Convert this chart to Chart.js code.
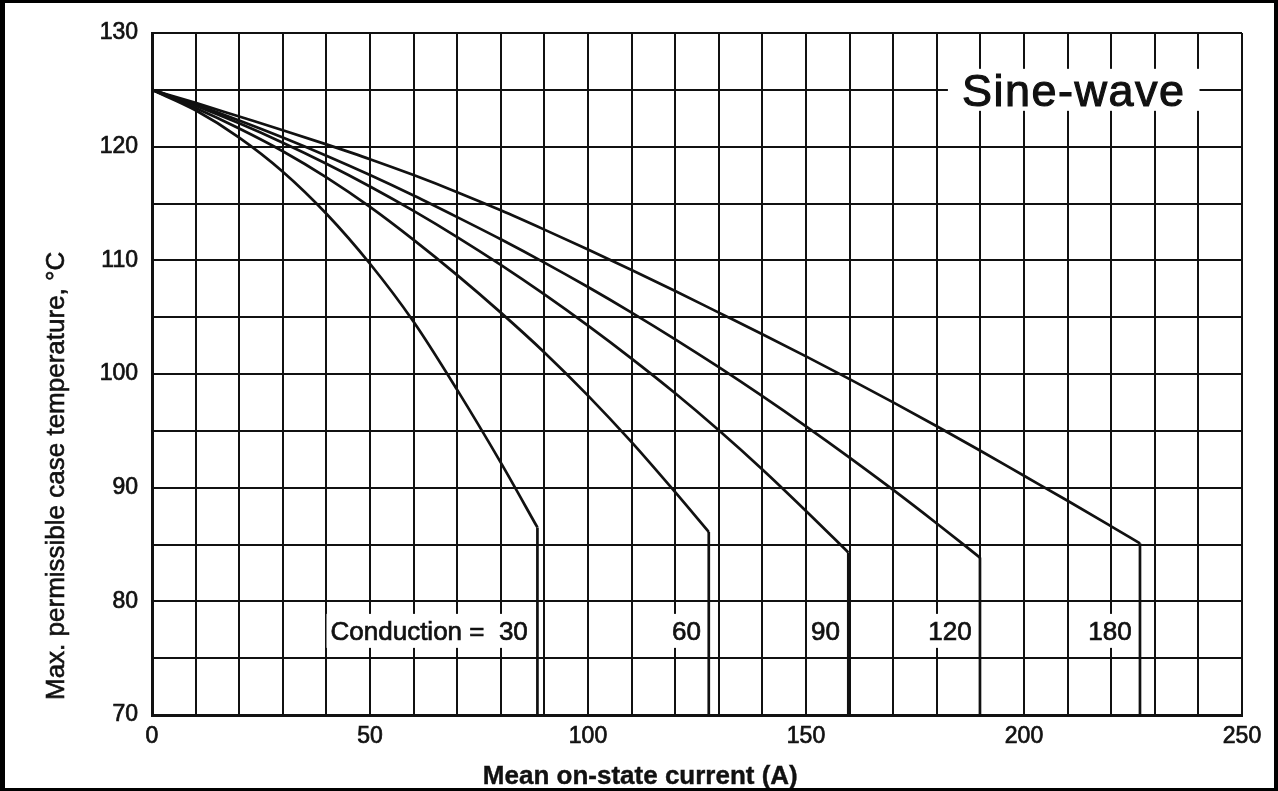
<!DOCTYPE html>
<html lang="en">
<head>
  <meta charset="utf-8">
  <title>Max. permissible case temperature - Sine-wave</title>
  <script src="https://cdn.jsdelivr.net/npm/chart.js@4.4.1/dist/chart.umd.min.js"></script>
  <style>
    html, body { margin: 0; padding: 0; background: #fff; }
    canvas { display: block; }
  </style>
</head>
<body>
  <canvas id="myChart" width="1278" height="791"></canvas>
  <script>
    // conduction angles and their curves (current A, case temp degC)
    const conduction = ['30', '60', '90', '120', '180'];

    const cur30 = [0, 10, 20, 30, 40, 50, 60, 70, 80, 88.4];
    const temp30 = [125, 123.2, 120.8, 117.8, 114.1, 109.7, 104.6, 98.6, 92.2, 86.5];

    const cur60 = [0, 10, 20, 30, 40, 50, 60, 70, 80, 90, 100, 110, 120, 127.7];
    const temp60 = [125, 123.4, 121.6, 119.6, 117.3, 114.7, 111.8, 108.7, 105.4, 101.9, 98.1, 94.0, 89.6, 86.1];

    const cur90 = [0, 10, 20, 30, 40, 50, 60, 70, 80, 90, 100, 110, 120, 130, 140, 150, 159.7];
    const temp90 = [125, 123.6, 122.05, 120.35, 118.5, 116.5, 114.35, 112.05, 109.6, 107.0, 104.25, 101.35, 98.3, 95.05, 91.6, 87.95, 84.3];

    const cur120 = [0, 10, 20, 30, 40, 50, 60, 70, 80, 90, 100, 110, 120, 130, 140, 150, 160, 170, 180, 189.9];
    const temp120 = [125, 123.7, 122.3, 120.8, 119.2, 117.5, 115.7, 113.8, 111.85, 109.8, 107.65, 105.4, 103.05, 100.6, 98.05, 95.4, 92.65, 89.8, 86.85, 83.85];

    const cur180 = [0, 10, 20, 30, 40, 50, 60, 70, 80, 90, 100, 110, 120, 130, 140, 150, 160, 170, 180, 190, 200, 210, 220, 226.6];
    const temp180 = [125, 123.85, 122.65, 121.45, 120.2, 118.9, 117.5, 116.0, 114.4, 112.7, 110.95, 109.15, 107.3, 105.4, 103.5, 101.55, 99.55, 97.5, 95.4, 93.25, 91.05, 88.85, 86.6, 85.1];

    // where the "Conduction = ..." numbers sit (right edge, in A) and their row (degC)
    const labelCur = [86.2, 125.9, 157.8, 188, 224.7];
    const labelTemp = 77.4;

    const xMin = 0, xMax = 250, yMin = 70, yMax = 130;

    const curves = [
      [cur30, temp30],
      [cur60, temp60],
      [cur90, temp90],
      [cur120, temp120],
      [cur180, temp180]
    ];

    const ink = '#111';
    const datasets = [];
    curves.forEach(function (c, i) {
      const xs = c[0], ys = c[1];
      datasets.push({
        label: conduction[i],
        data: xs.map(function (v, k) { return { x: v, y: ys[k] }; }),
        borderColor: ink,
        borderWidth: 2.7,
        pointRadius: 0,
        cubicInterpolationMode: 'monotone',
        fill: false
      });
      // vertical drop at the end of each curve, down to the axis
      const last = xs.length - 1;
      datasets.push({
        label: conduction[i] + ' limit',
        data: [{ x: xs[last], y: ys[last] }, { x: xs[last], y: yMin }],
        borderColor: ink,
        borderWidth: 2.7,
        pointRadius: 0,
        tension: 0,
        fill: false
      });
    });

    const FONT = '"Liberation Sans", Arial, Helvetica, sans-serif';

    // text with a thin outline so it looks as heavy as the scanned lettering
    function inkText(ctx, text, x, y, weight) {
      ctx.fillText(text, x, y);
      ctx.lineWidth = weight;
      ctx.strokeStyle = ink;
      ctx.strokeText(text, x, y);
    }

    function boxedText(ctx, text, xRight, yMid, size, pad, halfH, spacing, weight) {
      ctx.font = size + 'px ' + FONT;
      ctx.letterSpacing = spacing || '0px';
      const w = ctx.measureText(text).width;
      ctx.fillStyle = '#fff';
      ctx.fillRect(xRight - w - pad, yMid - halfH, w + pad * 2, halfH * 2);
      ctx.fillStyle = ink;
      ctx.textAlign = 'left';
      ctx.textBaseline = 'alphabetic';
      inkText(ctx, text, xRight - w, yMid + size * 0.358, weight);
      ctx.letterSpacing = '0px';
    }

    const extras = {
      id: 'extras',
      afterDatasetsDraw(chart) {
        const ctx = chart.ctx;
        const x = chart.scales.x, y = chart.scales.y;
        ctx.save();
        // Sine-wave tag
        ctx.font = '45px ' + FONT;
        ctx.letterSpacing = '1.5px';
        const sw = ctx.measureText('Sine-wave').width;
        const sx = x.getPixelForValue(211.4) + sw / 2;
        boxedText(ctx, 'Sine-wave', sx, y.getPixelForValue(125), 45, 14, 21, '1.5px', 1.1);
        // conduction labels
        const ly = y.getPixelForValue(labelTemp);
        conduction.forEach(function (c, i) {
          const t = i === 0 ? 'Conduction =  ' + c : c;
          boxedText(ctx, t, x.getPixelForValue(labelCur[i]), ly, 26, 4, 17, '0px', 0.7);
        });
        ctx.restore();
      },
      afterDraw(chart) {
        const ctx = chart.ctx;
        const area = chart.chartArea;
        const x = chart.scales.x;
        ctx.save();
        ctx.fillStyle = ink;
        // axis titles
        ctx.font = 'bold 26px ' + FONT;
        ctx.textAlign = 'center';
        ctx.textBaseline = 'alphabetic';
        inkText(ctx, 'Mean on-state current (A)', x.getPixelForValue(112), chart.height - 7, 0.4);

        ctx.translate(57, area.bottom - 15);
        ctx.rotate(-Math.PI / 2);
        ctx.font = '26px ' + FONT;
        ctx.textAlign = 'left';
        ctx.textBaseline = 'middle';
        inkText(ctx, 'Max. permissible case temperature, \u00B0C', 0, 0, 0.6);
        ctx.setTransform(1, 0, 0, 1, 0, 0);

        // outer frame of the figure
        const W = chart.width, H = chart.height;
        ctx.fillStyle = '#000';
        ctx.fillRect(0, 0, W, 3);
        ctx.fillRect(0, H - 3, W, 3);
        ctx.fillRect(0, 0, 5, H);
        ctx.fillRect(W - 4, 0, 4, H);
        ctx.restore();
      }
    };

    const ctx = document.getElementById('myChart');
    const myChart = new Chart(ctx, {
      type: 'line',
      data: { datasets: datasets },
      options: {
        responsive: false,
        animation: false,
        layout: { padding: { top: 33, right: 36, left: 0, bottom: 0 } },
        plugins: {
          legend: { display: false },
          tooltip: { enabled: false }
        },
        scales: {
          x: {
            type: 'linear',
            min: xMin,
            max: xMax,
            afterFit: function (s) { s.height = 76; },
            grid: { color: ink, lineWidth: 2, drawTicks: false },
            border: { color: ink, width: 3 },
            ticks: {
              stepSize: 10,
              autoSkip: false,
              maxRotation: 0,
              padding: 8,
              color: ink,
              textStrokeColor: ink,
              textStrokeWidth: 0.7,
              font: { family: FONT, size: 23 },
              callback: function (v) { return v % 50 === 0 ? v : ''; }
            }
          },
          y: {
            type: 'linear',
            min: yMin,
            max: yMax,
            afterFit: function (s) { s.width = 152; },
            grid: { color: ink, lineWidth: 2, drawTicks: false },
            border: { color: ink, width: 3 },
            ticks: {
              stepSize: 5,
              autoSkip: false,
              padding: 14,
              color: ink,
              textStrokeColor: ink,
              textStrokeWidth: 0.7,
              font: { family: FONT, size: 23 },
              callback: function (v) { return v % 10 === 0 ? v : ''; }
            }
          }
        }
      },
      plugins: [extras]
    });
  </script>
</body>
</html>
